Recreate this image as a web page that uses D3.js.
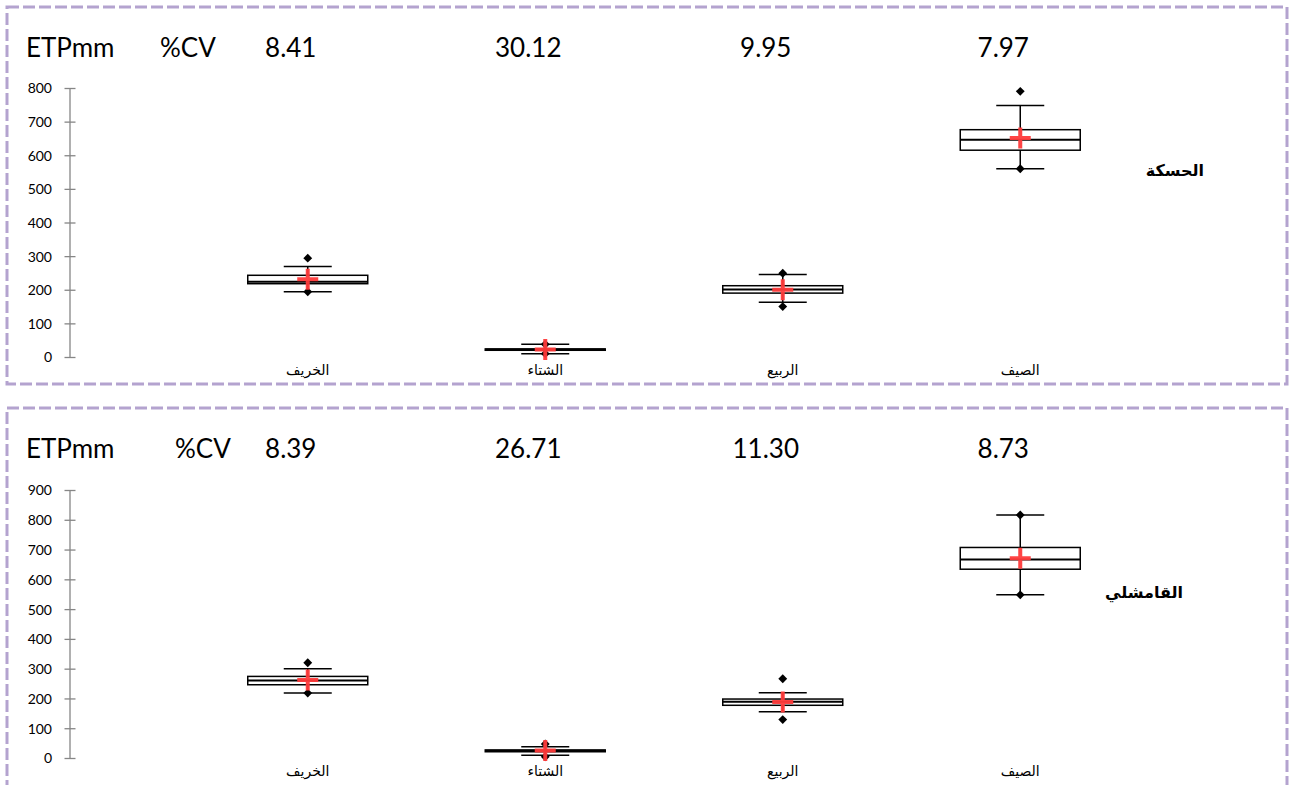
<!DOCTYPE html>
<html>
<head>
<meta charset="utf-8">
<script src="https://cdn.jsdelivr.net/npm/d3@7"></script>
<style>
  html, body { margin: 0; padding: 0; background: #fff; }
  svg { display: block; }
</style>
</head>
<body>
<svg id="chart" width="1290" height="785"></svg>
<script>
// Seasons (categories) and stations
const seasons = ["الخريف", "الشتاء", "الربيع", "الصيف"];
const stations = ["الحسكة", "القامشلي"];

// Coefficient of variation per season (%)
const cvHasakah  = ["8.41", "30.12", "9.95", "7.97"];
const cvQamishli = ["8.39", "26.71", "11.30", "8.73"];

// Seasonal ETP (mm) box statistics — Hasakah
const hasMin     = [194, 10, 150, 560];
const hasLowCap  = [194, 10, 163, 560];
const hasQ1      = [218, 20, 190, 615];
const hasMedian  = [224, 22, 201, 646];
const hasQ3      = [243, 24, 212, 676];
const hasHighCap = [269, 38, 245, 748];
const hasMax     = [294, 38, 249, 790];
const hasMean    = [231, 22, 200, 651];

// Seasonal ETP (mm) box statistics — Qamishli
const qamMin     = [218, 4, 129, 548];
const qamLowCap  = [218, 9, 155, 548];
const qamQ1      = [246, 21, 177, 634];
const qamMedian  = [260, 24, 189, 667];
const qamQ3      = [274, 27, 198, 707];
const qamHighCap = [300, 38, 219, 816];
const qamMax     = [320, 47, 266, 816];
const qamMean    = [262, 25, 188, 671];

// Y-axis tick values per panel
const ticksHasakah  = [0, 100, 200, 300, 400, 500, 600, 700, 800];
const ticksQamishli = [0, 100, 200, 300, 400, 500, 600, 700, 800, 900];

function rows(min, lowCap, q1, med, q3, highCap, max, mean) {
  return seasons.map((s, i) => ({
    season: s, min: min[i], lowCap: lowCap[i], q1: q1[i], median: med[i],
    q3: q3[i], highCap: highCap[i], max: max[i], mean: mean[i]
  }));
}

const panels = [
  {
    station: stations[0], cv: cvHasakah, ticks: ticksHasakah,
    data: rows(hasMin, hasLowCap, hasQ1, hasMedian, hasQ3, hasHighCap, hasMax, hasMean),
    frame: { x: 7, y: 7, w: 1280, h: 377 },
    yRange: [357, 88], headerY: 57, labelY: 375, cvLabelX: 160,
    stationX: 1204, stationY: 176
  },
  {
    station: stations[1], cv: cvQamishli, ticks: ticksQamishli,
    data: rows(qamMin, qamLowCap, qamQ1, qamMedian, qamQ3, qamHighCap, qamMax, qamMean),
    frame: { x: 7, y: 408, w: 1280, h: 400 },
    yRange: [758, 490], headerY: 458, labelY: 776, cvLabelX: 175,
    stationX: 1183, stationY: 598
  }
];

const svg = d3.select("#chart");
const x = d3.scaleBand().domain(seasons).range([189, 1139]).padding(0);
const cx = s => x(s) + x.bandwidth() / 2;

const BOX_W = 120, CAP_W = 48, CROSS = 21;
const latin = "Lato, 'Open Sans', sans-serif";
const arabic = "'DejaVu Sans', sans-serif";

panels.forEach(p => {
  const g = svg.append("g");
  const y = d3.scaleLinear()
    .domain([0, d3.max(p.ticks)])
    .range(p.yRange);

  // dashed frame
  g.append("rect")
    .attr("x", p.frame.x).attr("y", p.frame.y)
    .attr("width", p.frame.w).attr("height", p.frame.h)
    .attr("fill", "none")
    .attr("stroke", "#b4a3cf")
    .attr("stroke-width", 3)
    .attr("stroke-dasharray", "12 4");

  // y axis
  const axis = d3.axisLeft(y).tickValues(p.ticks).tickSize(0).tickPadding(0);
  const ag = g.append("g").attr("transform", "translate(70,0)").call(axis);
  ag.select(".domain").remove();
  ag.append("line")
    .attr("x1", 0).attr("x2", 0)
    .attr("y1", y(0)).attr("y2", y(d3.max(p.ticks)))
    .attr("stroke", "#868686").attr("stroke-width", 1.3);
  ag.selectAll(".tick line")
    .attr("x1", -5.5).attr("x2", 5.5)
    .attr("stroke", "#868686").attr("stroke-width", 1.3);
  ag.selectAll(".tick text")
    .attr("x", -18)
    .attr("dy", "0.35em")
    .attr("fill", "#000")
    .style("font-family", latin)
    .style("font-size", "14px");

  // header: units, CV label and per-season CV values
  const hdr = sel => sel.style("font-family", latin).style("font-size", "26px");
  g.append("text")
    .attr("x", 26).attr("y", p.headerY)
    .call(hdr).text("ETPmm");
  g.append("text")
    .attr("x", p.cvLabelX).attr("y", p.headerY)
    .call(hdr).text("%CV");
  g.selectAll(".cv").data(p.cv).join("text")
    .attr("x", (d, i) => cx(seasons[i]) - 17)
    .attr("y", p.headerY)
    .attr("text-anchor", "middle")
    .call(hdr)
    .text(d => d);

  // category labels
  g.selectAll(".cat").data(seasons).join("text")
    .attr("x", d => cx(d)).attr("y", p.labelY)
    .attr("text-anchor", "middle")
    .style("font-family", arabic).style("font-size", "14px")
    .text(d => d);

  // station name
  g.append("text")
    .attr("x", p.stationX).attr("y", p.stationY)
    .attr("text-anchor", "end")
    .style("font-family", arabic).style("font-size", "16px")
    .style("font-weight", "bold")
    .text(p.station);

  // boxes
  const b = g.selectAll(".box").data(p.data).join("g");

  // whisker stem
  b.append("line")
    .attr("x1", d => cx(d.season)).attr("x2", d => cx(d.season))
    .attr("y1", d => y(d.lowCap)).attr("y2", d => y(d.highCap))
    .attr("stroke", "#000").attr("stroke-width", 1.5);
  // caps
  ["lowCap", "highCap"].forEach(k => {
    b.append("line")
      .attr("x1", d => cx(d.season) - CAP_W / 2)
      .attr("x2", d => cx(d.season) + CAP_W / 2)
      .attr("y1", d => y(d[k])).attr("y2", d => y(d[k]))
      .attr("stroke", "#000").attr("stroke-width", 1.5);
  });
  // box body
  b.append("rect")
    .attr("x", d => cx(d.season) - BOX_W / 2)
    .attr("width", BOX_W)
    .attr("y", d => y(d.q3))
    .attr("height", d => Math.max(0.5, y(d.q1) - y(d.q3)))
    .attr("fill", "#fff")
    .attr("stroke", "#000").attr("stroke-width", 1.5);
  // median
  b.append("line")
    .attr("x1", d => cx(d.season) - BOX_W / 2)
    .attr("x2", d => cx(d.season) + BOX_W / 2)
    .attr("y1", d => y(d.median)).attr("y2", d => y(d.median))
    .attr("stroke", "#000").attr("stroke-width", 2);
  // min / max points
  ["min", "max"].forEach(k => {
    b.append("path")
      .attr("d", d3.symbol(d3.symbolDiamond2, 50))
      .attr("transform", d => `translate(${cx(d.season)},${y(d[k])})`)
      .attr("fill", "#000");
  });
  // mean marker (red cross)
  b.append("path")
    .attr("d", d => {
      const mx = cx(d.season), my = y(d.mean), h = CROSS / 2;
      return `M${mx - h},${my}H${mx + h}M${mx},${my - h}V${my + h}`;
    })
    .attr("stroke", "#ff3b3b").attr("stroke-width", 4)
    .attr("fill", "none").attr("opacity", 0.95);
});
</script>
</body>
</html>
